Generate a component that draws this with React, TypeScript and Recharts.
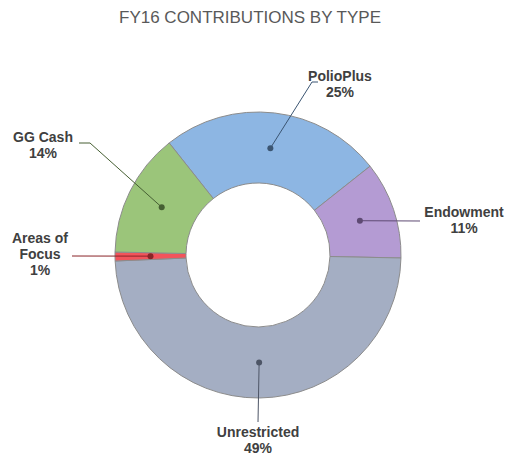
import { PieChart, Pie, Cell } from "recharts";

const TITLE = "FY16 CONTRIBUTIONS BY TYPE";

// slices in clockwise order starting from PolioPlus
const names = ["PolioPlus", "Endowment", "Unrestricted", "Areas of Focus", "GG Cash"];
const shares = [25, 11, 49, 1, 14];

const FILLS = ["#8db6e3", "#b49bd3", "#a4aec3", "#f2545b", "#9bc57a"];
const DARKS = ["#3b5572", "#5e4a73", "#4d5566", "#8a2428", "#465f33"];

const data = names.map((name, i) => ({ name, value: shares[i] }));

// where each callout goes: text centre x, first baseline y, leader elbow points (from text side)
const LAYOUT: Record<string, { tx: number; ty: number; pts: [number, number][]; wrap?: boolean }> = {
  PolioPlus: { tx: 340, ty: 81, pts: [[318, 82], [312, 82]] },
  Endowment: { tx: 464, ty: 217, pts: [[420, 221]] },
  Unrestricted: { tx: 258, ty: 437, pts: [[258, 422]] },
  "Areas of Focus": { tx: 40, ty: 243, pts: [[72, 256]], wrap: true },
  "GG Cash": { tx: 43, ty: 142, pts: [[79, 143], [90, 143]] },
};

const RAD = Math.PI / 180;

const Callout = (props: any) => {
  const { cx, cy, midAngle, innerRadius, outerRadius, name, percent, index } = props;
  const lay = LAYOUT[name];
  if (!lay) return null;
  const r = (innerRadius + outerRadius) / 2;
  const dx = cx + r * Math.cos(-midAngle * RAD);
  const dy = cy + r * Math.sin(-midAngle * RAD);
  const pts = [...lay.pts, [dx, dy]];
  const words = name.split(" ");
  const lines = lay.wrap ? [words.slice(0, 2).join(" "), words.slice(2).join(" ")] : [name];
  lines.push(`${Math.round(percent * 100)}%`);
  return (
    <g>
      <polyline
        points={pts.map((p) => p.join(",")).join(" ")}
        fill="none"
        stroke={DARKS[index]}
        strokeWidth={1}
      />
      <circle cx={dx} cy={dy} r={3} fill={DARKS[index]} />
      <text
        x={lay.tx}
        y={lay.ty}
        textAnchor="middle"
        fill="#404040"
        fontSize={14}
        fontWeight="bold"
        fontFamily="'Liberation Sans', Arial, sans-serif"
      >
        {lines.map((l, i) => (
          <tspan key={i} x={lay.tx} dy={i === 0 ? 0 : 16}>
            {l}
          </tspan>
        ))}
      </text>
    </g>
  );
};

export default function App() {
  return (
    <div style={{ position: "absolute", left: 0, top: 0, width: 506, height: 455, background: "#fff" }}>
      <div
        style={{
          position: "absolute",
          left: 0,
          top: 8,
          width: 500,
          textAlign: "center",
          fontFamily: "'Liberation Sans', Arial, sans-serif",
          fontSize: 17,
          color: "#595959",
          lineHeight: "20px",
        }}
      >
        {TITLE}
      </div>
      <PieChart width={506} height={455} margin={{ top: 0, right: 0, bottom: 0, left: 0 }}>
        <Pie
          data={data}
          dataKey="value"
          nameKey="name"
          cx={258}
          cy={255}
          innerRadius={72}
          outerRadius={143}
          startAngle={128.4}
          endAngle={-231.6}
          stroke="#8c8c8c"
          strokeWidth={1}
          label={Callout}
          labelLine={false}
          isAnimationActive={false}
        >
          {data.map((_, i) => (
            <Cell key={i} fill={FILLS[i]} />
          ))}
        </Pie>
      </PieChart>
    </div>
  );
}
